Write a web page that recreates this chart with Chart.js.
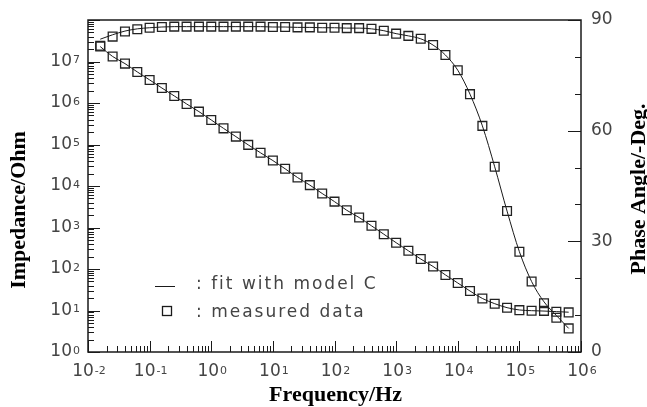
<!DOCTYPE html>
<html>
<head>
<meta charset="utf-8">
<script src="https://cdn.jsdelivr.net/npm/chart.js@4.4.1/dist/chart.umd.min.js"></script>
<style>
  html, body { margin: 0; padding: 0; background: #fff; }
</style>
</head>
<body>
<canvas id="bode-chart" width="647" height="407"></canvas>
<script>
/**
 * Data (5 points per decade)
 */
const frequencies = [
    0.0158, 0.0251, 0.0398, 0.0631, 0.1, 0.158, 0.251, 0.398, 0.631,
    1, 1.58, 2.51, 3.98, 6.31, 10, 15.8, 25.1, 39.8, 63.1,
    100, 158, 251, 398, 631, 1000, 1580, 2510, 3980, 6310,
    10000, 15800, 25100, 39800, 63100, 100000, 158000, 251000, 398000, 631000
];

const impedanceMeasured = [
    2.29e7, 1.32e7, 8.9e6, 5.6e6, 3.6e6, 2.3e6, 1.48e6, 9.5e5, 6.2e5,
    3.9e5, 2.45e5, 1.55e5, 9.8e4, 6.3e4, 4.1e4, 2.6e4, 1.6e4, 1.05e4, 6600,
    4200, 2600, 1740, 1100, 690, 430, 275, 174, 115, 72,
    46, 29.5, 19.5, 14.6, 11.7, 10.2, 9.9, 9.8, 9.3, 9.0
];

const impedanceFit = [
    2.29e7, 1.32e7, 8.9e6, 5.6e6, 3.6e6, 2.3e6, 1.48e6, 9.5e5, 6.2e5,
    3.9e5, 2.45e5, 1.55e5, 9.8e4, 6.3e4, 4.1e4, 2.6e4, 1.6e4, 1.05e4, 6600,
    4200, 2600, 1740, 1100, 690, 430, 275, 174, 115, 72,
    46, 29.5, 19.5, 14.6, 11.7, 10.3, 9.9, 9.7, 9.4, 9.1
];

const phaseMeasured = [
    83.0, 85.5, 86.9, 87.5, 87.9, 88.1, 88.2, 88.2, 88.2,
    88.2, 88.2, 88.2, 88.2, 88.2, 88.1, 88.1, 88.0, 88.0, 87.9,
    87.9, 87.8, 87.8, 87.6, 87.1, 86.3, 85.7, 84.9, 83.2, 80.5,
    76.4, 69.9, 61.3, 50.2, 38.2, 27.2, 19.1, 13.2, 9.3, 6.4
];

const phaseFit = [
    84.8, 86.0, 87.0, 87.6, 87.9, 88.1, 88.2, 88.2, 88.2,
    88.2, 88.2, 88.2, 88.2, 88.2, 88.1, 88.1, 88.0, 88.0, 87.9,
    87.9, 87.8, 87.8, 87.6, 87.1, 86.3, 85.7, 84.9, 83.2, 80.5,
    76.4, 69.9, 61.3, 50.2, 38.2, 27.2, 19.1, 13.6, 9.9, 6.4
];

// tick labels
const frequencyDecades = [-2, -1, 0, 1, 2, 3, 4, 5, 6];
const impedanceDecades = [0, 1, 2, 3, 4, 5, 6, 7, 8];
const impedanceLabelled = [0, 1, 2, 3, 4, 5, 6, 7];
const phaseMajorTicks = [0, 30, 60, 90];
const phaseMinorTicks = [10, 20, 40, 50, 70, 80];

const legendLabels = [': fit with model C', ': measured data'];

const TICK_FONT = '"DejaVu Sans", sans-serif';
const TITLE_FONT = 'bold 22px "Liberation Serif", "Times New Roman", serif';
const INK = '#1a1a1a';

/**
 * Builds {x, y} points from the frequency list
 */
function toPoints(values) {
    return frequencies.map((f, i) => ({ x: f, y: values[i] }));
}

/**
 * Draws "10" with an exponent, like the original axis labels
 */
function drawPower(ctx, exp, x, y, align) {
    ctx.font = `17px ${TICK_FONT}`;
    const baseWidth = ctx.measureText('10').width;
    ctx.font = `11px ${TICK_FONT}`;
    const supWidth = ctx.measureText(String(exp)).width;
    const total = baseWidth + 1 + supWidth;

    let left = x - total;
    if (align === 'center') left = x - total / 2;

    ctx.textAlign = 'left';
    ctx.textBaseline = 'middle';
    ctx.font = `17px ${TICK_FONT}`;
    ctx.fillText('10', left, y);
    ctx.textBaseline = 'alphabetic';
    ctx.font = `11px ${TICK_FONT}`;
    ctx.fillText(String(exp), left + baseWidth + 1, y + 1.5);
}

/**
 * Frame, inward ticks, labels, titles and legend
 */
const bodeAxes = {
    id: 'bodeAxes',
    afterDatasetsDraw(chart) {
        const { ctx, chartArea: area, scales } = chart;
        const xs = scales.x, ys = scales.y, ps = scales.phase;

        ctx.save();
        ctx.strokeStyle = INK;
        ctx.fillStyle = INK;

        // frame
        ctx.lineWidth = 1.5;
        ctx.strokeRect(area.left, area.top, area.right - area.left, area.bottom - area.top);

        // ticks
        ctx.lineWidth = 1;
        ctx.beginPath();
        frequencyDecades.forEach(e => {
            for (let m = 1; m <= 9; m++) {
                const v = m * Math.pow(10, e);
                if (v > xs.max) break;
                const px = Math.round(xs.getPixelForValue(v)) + 0.5;
                ctx.moveTo(px, area.bottom);
                ctx.lineTo(px, area.bottom - (m === 1 ? 11 : 6));
            }
        });
        impedanceDecades.forEach(e => {
            for (let m = 1; m <= 9; m++) {
                const v = m * Math.pow(10, e);
                if (v > ys.max) break;
                const py = Math.round(ys.getPixelForValue(v)) + 0.5;
                ctx.moveTo(area.left, py);
                ctx.lineTo(area.left + (m === 1 ? 12 : 6), py);
            }
        });
        phaseMajorTicks.forEach(v => {
            const py = Math.round(ps.getPixelForValue(v)) + 0.5;
            ctx.moveTo(area.right, py);
            ctx.lineTo(area.right - 13, py);
        });
        phaseMinorTicks.forEach(v => {
            const py = Math.round(ps.getPixelForValue(v)) + 0.5;
            ctx.moveTo(area.right, py);
            ctx.lineTo(area.right - 6, py);
        });
        ctx.stroke();

        // tick labels
        ctx.fillStyle = '#444';
        frequencyDecades.forEach(e => {
            drawPower(ctx, e, xs.getPixelForValue(Math.pow(10, e)) + 1, area.bottom + 20, 'center');
        });
        impedanceLabelled.forEach(e => {
            drawPower(ctx, e, area.left - 8, ys.getPixelForValue(Math.pow(10, e)), 'right');
        });
        ctx.font = `17px ${TICK_FONT}`;
        ctx.textAlign = 'left';
        ctx.textBaseline = 'middle';
        phaseMajorTicks.forEach(v => {
            ctx.fillText(String(v), area.right + 10, ps.getPixelForValue(v));
        });

        // legend
        ctx.strokeStyle = INK;
        ctx.lineWidth = 1;
        ctx.beginPath();
        ctx.moveTo(155, 286.5);
        ctx.lineTo(175, 286.5);
        ctx.stroke();
        ctx.lineWidth = 1.3;
        ctx.strokeRect(162.5, 306.5, 9, 9);
        ctx.font = `17px ${TICK_FONT}`;
        ctx.letterSpacing = '2px';
        ctx.textBaseline = 'alphabetic';
        ctx.fillText(legendLabels[0], 196, 289);
        ctx.fillText(legendLabels[1], 196, 317);
        ctx.letterSpacing = '0px';

        // titles
        ctx.fillStyle = '#000';
        ctx.font = TITLE_FONT;
        ctx.textAlign = 'center';
        ctx.textBaseline = 'alphabetic';
        ctx.fillText('Frequency/Hz', (area.left + area.right) / 2 + 1, 401);

        ctx.save();
        ctx.translate(25, 210);
        ctx.rotate(-Math.PI / 2);
        ctx.fillText('Impedance/Ohm', 0, 0);
        ctx.restore();

        ctx.save();
        ctx.translate(645, 189);
        ctx.rotate(-Math.PI / 2);
        ctx.fillText('Phase Angle/-Deg.', 0, 0);
        ctx.restore();

        ctx.restore();
    }
};

const lineStyle = {
    showLine: true,
    pointRadius: 0,
    borderColor: INK,
    borderWidth: 1,
    cubicInterpolationMode: 'monotone',
    fill: false
};

const markerStyle = {
    showLine: false,
    pointStyle: 'rect',
    pointRadius: 6.2,
    pointBorderWidth: 1.3,
    pointBorderColor: '#222',
    pointBackgroundColor: 'rgba(0,0,0,0)'
};

const ctx = document.getElementById('bode-chart');
const bodeChart = new Chart(ctx, {
    type: 'scatter',
    data: {
        datasets: [
            { label: 'fit |Z|', data: toPoints(impedanceFit), yAxisID: 'y', ...lineStyle },
            { label: 'fit phase', data: toPoints(phaseFit), yAxisID: 'phase', ...lineStyle },
            { label: 'measured |Z|', data: toPoints(impedanceMeasured), yAxisID: 'y', ...markerStyle },
            { label: 'measured phase', data: toPoints(phaseMeasured), yAxisID: 'phase', ...markerStyle }
        ]
    },
    options: {
        responsive: false,
        animation: false,
        layout: { padding: { left: 88, right: 66, top: 20, bottom: 55 } },
        plugins: {
            legend: { display: false },
            tooltip: { enabled: false }
        },
        scales: {
            x: { type: 'logarithmic', min: 0.01, max: 1e6, display: false },
            y: { type: 'logarithmic', min: 1, max: 1e8, display: false },
            phase: { type: 'linear', min: 0, max: 90, display: false }
        }
    },
    plugins: [bodeAxes]
});
</script>
</body>
</html>
